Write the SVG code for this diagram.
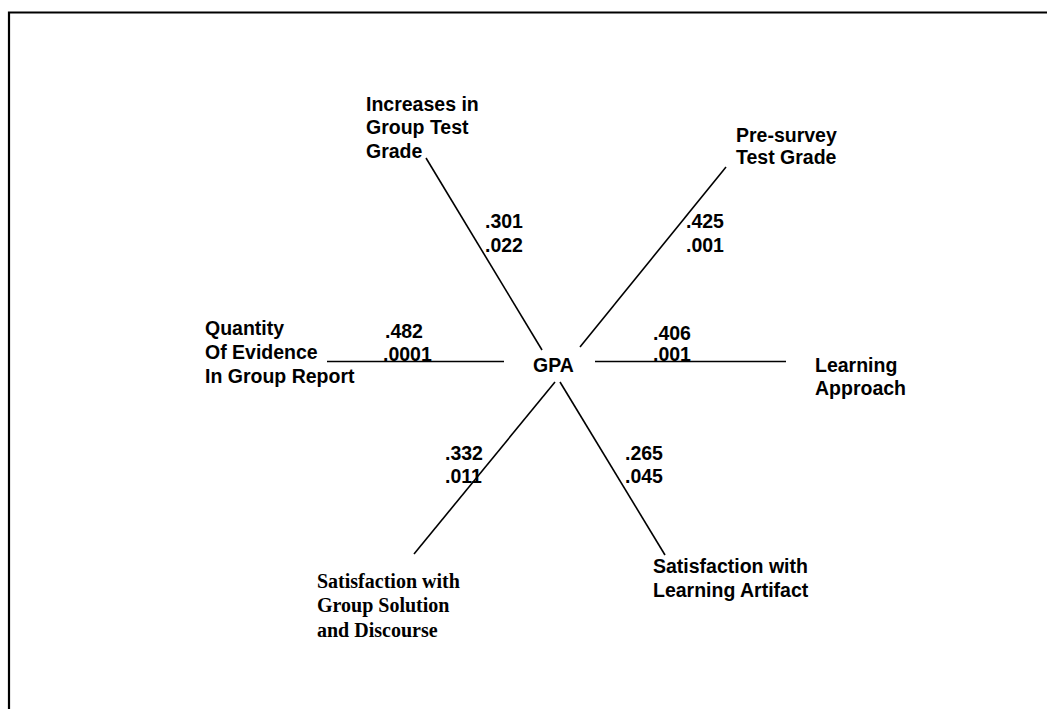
<svg xmlns="http://www.w3.org/2000/svg" width="1047" height="709" viewBox="0 0 1047 709">
<style>
.t{font-family:"Liberation Sans",Arial,sans-serif;font-weight:bold;font-size:19.5px;fill:#000}
.s{font-family:"Liberation Serif","Times New Roman",serif;font-weight:bold;font-size:20px;fill:#000}
.c{stroke:#000;stroke-width:1.6;fill:none}
</style>
<rect width="1047" height="709" fill="#fff"/>
<path d="M9 709 V12.5 H1047" stroke="#000" stroke-width="2.2" fill="none"/>
<g id="connectors">
<line class="c" x1="426" y1="158" x2="542" y2="350"/>
<line class="c" x1="726" y1="167" x2="580" y2="347"/>
<line class="c" x1="327" y1="361.5" x2="504" y2="361.5"/>
<line class="c" x1="595" y1="361.5" x2="786" y2="361.5"/>
<line class="c" x1="555" y1="382" x2="414" y2="554"/>
<line class="c" x1="560" y1="382" x2="665" y2="555"/>
<text class="t" x="485" y="228">.301</text>
<text class="t" x="485" y="252">.022</text>
<text class="t" x="686" y="228">.425</text>
<text class="t" x="686" y="252">.001</text>
<text class="t" x="385" y="338">.482</text>
<text class="t" x="383" y="361">.0001</text>
<text class="t" x="653" y="340">.406</text>
<text class="t" x="653" y="361">.001</text>
<text class="t" x="445" y="460">.332</text>
<text class="t" x="445" y="483">.011</text>
<text class="t" x="625" y="460">.265</text>
<text class="t" x="625" y="483">.045</text>
</g>
<g id="gpa"><text class="t" x="533" y="372">GPA</text></g>
<g id="increases"><text class="t" x="366"><tspan x="366" y="111">Increases in</tspan><tspan x="366" y="134">Group Test</tspan><tspan x="366" y="158">Grade</tspan></text></g>
<g id="presurvey"><text class="t"><tspan x="736" y="142">Pre-survey</tspan><tspan x="736" y="164">Test Grade</tspan></text></g>
<g id="quantity"><text class="t"><tspan x="205" y="335">Quantity</tspan><tspan x="205" y="359">Of Evidence</tspan><tspan x="205" y="383">In Group Report</tspan></text></g>
<g id="learning"><text class="t"><tspan x="815" y="372">Learning</tspan><tspan x="815" y="395">Approach</tspan></text></g>
<g id="satgroup"><text class="s"><tspan x="317" y="588">Satisfaction with</tspan><tspan x="317" y="612">Group Solution</tspan><tspan x="317" y="637">and Discourse</tspan></text></g>
<g id="satlearning"><text class="t"><tspan x="653" y="573">Satisfaction with</tspan><tspan x="653" y="597">Learning Artifact</tspan></text></g>
</svg>
